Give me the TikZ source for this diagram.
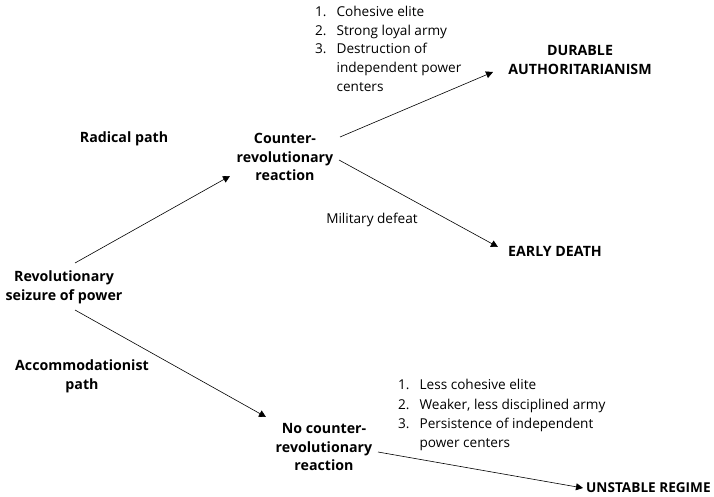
\documentclass[tikz,border=0pt]{standalone}
\usepackage{fontspec}
\setmainfont{Open Sans}
\usetikzlibrary{arrows.meta,calc}
\begin{document}
\begin{tikzpicture}[x=1pt,y=-1pt,
  every node/.style={inner sep=0pt,font=\fontsize{13.6}{18.8}\selectfont},
  stage/.style={align=center,font=\fontsize{14.2}{18.8}\selectfont\bfseries},
  lbl/.style={align=center},
  arr/.style={draw=black,line width=0.6pt,-{Triangle[width=7pt,length=7pt]}}]
\useasboundingbox (0,0) rectangle (714,497);
\node[stage] (rev) at (64,287) {Revolutionary\\seizure of power};
\node[stage] (crr) at (285,157) {Counter-\\revolutionary\\reaction};
\node[stage] (da) at (580,60) {DURABLE\\AUTHORITARIANISM};
\node[stage,anchor=west] (ed) at (508,251) {EARLY DEATH};
\node[stage] (ncr) at (324,447) {No counter-\\revolutionary\\reaction};
\node[stage,anchor=west,font=\fontsize{13.6}{18.8}\selectfont\bfseries] (ur) at (586,488) {UNSTABLE REGIME};
\node[stage] (rp) at (124,139) {Radical path};
\node[stage] (ap) at (82,376) {Accommodationist\\path};
\node[lbl] (md) at (372,220) {Military defeat};
\node[anchor=north west] (l1) at (315,3) {\begin{tabular}{@{}l@{\hspace{10pt}}l@{}}1.&Cohesive elite\\2.&Strong loyal army\\3.&Destruction of\\&independent power\\&centers\end{tabular}};
\node[anchor=north west, font=\fontsize{13.6}{19.3}\selectfont] (l2) at (398,376) {\begin{tabular}{@{}l@{\hspace{10pt}}l@{}}1.&Less cohesive elite\\2.&Weaker, less disciplined army\\3.&Persistence of independent\\&power centers\end{tabular}};
\draw[arr] ($(rev)+(11,-24)$) -- ($(crr)+(-55,19)$);
\draw[arr] ($(crr)+(55,-20)$) -- ($(da)+(-87,12)$);
\draw[arr] ($(crr)+(54,3)$) -- ($(ed.west)+(-10,-4)$);
\draw[arr] ($(rev)+(11,23)$) -- ($(ncr)+(-58,-30)$);
\draw[arr] ($(ncr)+(54,5)$) -- ($(ur.west)+(-3,0)$);
\end{tikzpicture}
\end{document}
